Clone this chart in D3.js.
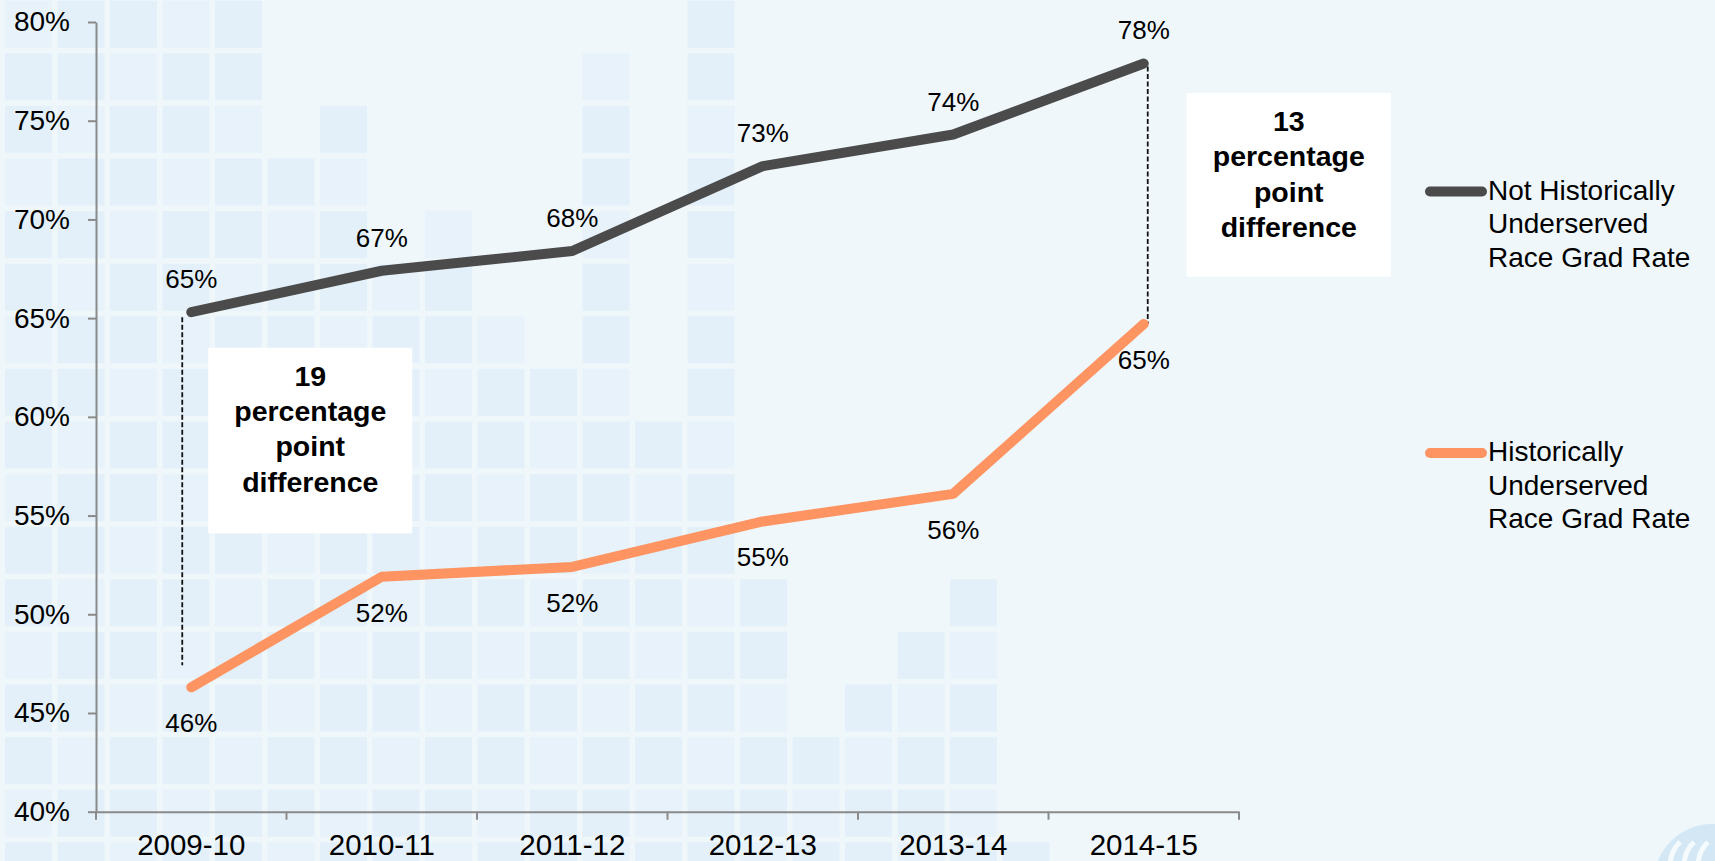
<!DOCTYPE html>
<meta charset="utf-8">
<head>
	<title>Grad rate gap</title>
</head>

<style>

body{
	margin: 0;
	background-color: #eff7fb;
}

svg{
	display: block;
	background-color: #eff7fb;
	font-family: "Liberation Sans", Arial, sans-serif;
}

.axis path, .axis line{
	stroke: #8a8a8a;
	stroke-width: 2;
}

.axis text{
	font-size: 28px;
	fill: #000;
}

.xaxis text{
	font-size: 29.5px;
}

</style>

<body>

<svg id="chart" width="1715" height="861"></svg>

<script src="https://cdnjs.cloudflare.com/ajax/libs/d3/7.8.5/d3.min.js"></script>
<script>

// data
var categories = ['2009-10', '2010-11', '2011-12', '2012-13', '2013-14', '2014-15'];
var notUnderserved = [65.3, 67.4, 68.4, 72.7, 74.3, 77.9];
var underserved = [46.3, 51.9, 52.4, 54.7, 56.1, 64.7];
var yTicks = [40, 45, 50, 55, 60, 65, 70, 75, 80];
var seriesNames = [
	['Not Historically', 'Underserved', 'Race Grad Rate'],
	['Historically', 'Underserved', 'Race Grad Rate']
];
var gapNotes = [
	['19', 'percentage', 'point', 'difference'],
	['13', 'percentage', 'point', 'difference']
];

// background tiles: first filled row of each column (decoration)
var tileTops = [0, 0, 0, 0, 0, 3, 2, 5, 4, 6, 7, 1, 8, 0, 11, 14, 13, 12, 11, 16];

var svg = d3.select('#chart');
var colors = ['#4b4b4b', '#fd9461'];

var plotLeft = 96, plotRight = 1239, plotTop = 22, plotBottom = 811.7;

var x = d3.scaleBand()
	.domain(categories)
	.range([plotLeft, plotRight]);

var y = d3.scaleLinear()
	.domain([40, 80])
	.range([plotBottom, plotTop]);

function xc(d){
	return x(d) + x.bandwidth() / 2;
}

// decoration grid
var tiles = [];
tileTops.forEach(function(t, c){
	for (var r = t; r < 17; r++) tiles.push({c: c, r: r});
});

svg.append('g')
	.selectAll('rect')
	.data(tiles)
	.enter()
	.append('rect')
	.attr('x', function(d){ return 5 + d.c * 52.5; })
	.attr('y', function(d){ return 0.7 + d.r * 52.6; })
	.attr('width', 47)
	.attr('height', 47)
	.style('fill', function(d){
		return (d.c + d.r) % 3 == 0 ? '#e7f2fa' : '#e3f0f9';
	});

// logo corner
var logo = svg.append('g').attr('transform', 'translate(1712, 882)');
logo.append('circle').attr('r', 58).style('fill', '#d3e7f4');
[0, 1, 2].forEach(function(i){
	logo.append('path')
		.attr('d', 'M' + (-40 + i * 14) + ',-6 q-6,-20 8,-34')
		.style('fill', 'none')
		.style('stroke', '#f5fafd')
		.style('stroke-width', 5);
});

// y axis
svg.append('g')
	.attr('class', 'axis')
	.attr('transform', 'translate(' + plotLeft + ',0)')
	.call(d3.axisLeft(y)
		.tickValues(yTicks)
		.tickSize(8)
		.tickSizeOuter(0)
		.tickPadding(18)
		.tickFormat(function(d){ return d + '%'; }));

// x axis
var xAxis = svg.append('g')
	.attr('class', 'axis xaxis')
	.attr('transform', 'translate(0,' + plotBottom + ')')
	.call(d3.axisBottom(x)
		.tickSize(0)
		.tickSizeOuter(0)
		.tickPadding(22.5));

var bounds = categories.map(function(d){ return x(d); }).concat([plotRight]);
xAxis.selectAll('.bound')
	.data(bounds)
	.enter()
	.append('line')
	.attr('class', 'bound')
	.attr('x1', function(d){ return d; })
	.attr('x2', function(d){ return d; })
	.attr('y1', 0)
	.attr('y2', 8);

// gap dashed lines
var dashes = [
	{x: xc(categories[0]) - 9, y1: y(notUnderserved[0]) + 5, y2: y(underserved[0]) - 22},
	{x: xc(categories[5]) + 4, y1: y(notUnderserved[5]) + 3, y2: y(underserved[5])}
];
svg.selectAll('.dash')
	.data(dashes)
	.enter()
	.append('line')
	.attr('class', 'dash')
	.attr('x1', function(d){ return d.x; })
	.attr('x2', function(d){ return d.x; })
	.attr('y1', function(d){ return d.y1; })
	.attr('y2', function(d){ return d.y2; })
	.style('stroke', '#111')
	.style('stroke-width', 1.8)
	.style('stroke-dasharray', '5,2.5');

// lines
var line = d3.line()
	.x(function(d, i){ return xc(categories[i]); })
	.y(function(d){ return y(d); });

var series = [notUnderserved, underserved];

svg.selectAll('.series')
	.data(series)
	.enter()
	.append('path')
	.attr('class', 'series')
	.attr('d', line)
	.style('fill', 'none')
	.style('stroke', function(d, i){ return colors[i]; })
	.style('stroke-width', 10)
	.style('stroke-linecap', 'round')
	.style('stroke-linejoin', 'round');

// value labels
series.forEach(function(vals, s){
	svg.append('g')
		.selectAll('text')
		.data(vals)
		.enter()
		.append('text')
		.attr('x', function(d, i){ return xc(categories[i]); })
		.attr('y', function(d){ return s == 0 ? y(d) - 24 : y(d) + 45; })
		.attr('text-anchor', 'middle')
		.style('font-size', '26px')
		.text(function(d){ return Math.round(d) + '%'; });
});

// gap boxes
var boxes = [
	{x: xc(categories[0]) + 17, top: y(63.5), bottom: y(54.1), lines: gapNotes[0]},
	{x: xc(categories[5]) + 43, top: y(76.4), bottom: y(67.1), lines: gapNotes[1]}
];

boxes.forEach(function(b){
	svg.append('rect')
		.attr('x', b.x)
		.attr('y', b.top)
		.attr('width', 204)
		.attr('height', b.bottom - b.top)
		.style('fill', '#fff');
	svg.append('g')
		.selectAll('text')
		.data(b.lines)
		.enter()
		.append('text')
		.attr('x', b.x + 102)
		.attr('y', function(d, i){ return b.top + 38 + i * 35.3; })
		.attr('text-anchor', 'middle')
		.style('font-size', '28.5px')
		.style('font-weight', 'bold')
		.text(function(d){ return d; });
});

// legend
var legendY = [191.5, 453];
seriesNames.forEach(function(names, s){
	var g = svg.append('g').attr('transform', 'translate(1430,' + legendY[s] + ')');
	g.append('line')
		.attr('x1', 0)
		.attr('x2', 52)
		.style('stroke', colors[s])
		.style('stroke-width', 10)
		.style('stroke-linecap', 'round');
	g.selectAll('text')
		.data(names)
		.enter()
		.append('text')
		.attr('x', 58)
		.attr('y', function(d, i){ return 8 + i * 33.5; })
		.style('font-size', '28px')
		.text(function(d){ return d; });
});

</script>

</body>
</html>
